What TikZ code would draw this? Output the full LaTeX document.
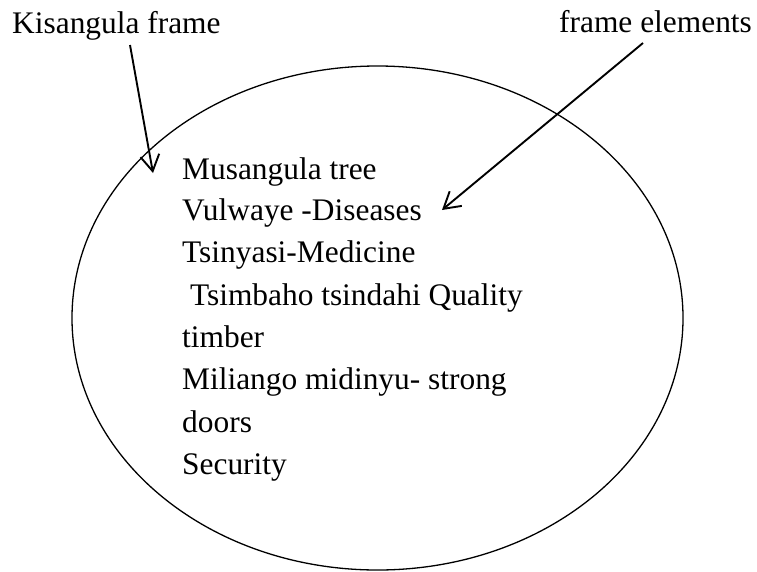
\documentclass[tikz,border=0pt]{standalone}
\usepackage{fontspec}
\setmainfont{Liberation Serif}
\usetikzlibrary{arrows.meta}
\begin{document}
\begin{tikzpicture}[x=1pt,y=-1pt,
  txt/.style={anchor=base west,inner sep=0pt,font=\fontsize{31.4}{42.3}\selectfont},
  pointer/.style={line width=1.9pt,-{Straight Barb[length=16pt,width=19pt,line join=miter]}},
  frameshape/.style={draw,line width=1.3pt}]
\useasboundingbox (0,0) rectangle (757,571);
\draw[frameshape] (377.5,318) ellipse [x radius=305.5,y radius=252];
\node[txt] (kis) at (12,33) {Kisangula frame};
\node[txt] (fel) at (559,32) {frame elements};
\node[txt] (l1) at (182,179) {Musangula tree};
\node[txt] (l2) at (182,220.7) {Vulwaye -Diseases};
\node[txt] (l3) at (182,262.8) {Tsinyasi-Medicine};
\node[txt] (l4) at (182,305.1) {\ Tsimbaho tsindahi Quality};
\node[txt] (l5) at (182,347.4) {timber};
\node[txt] (l6) at (182,389.8) {Miliango midinyu- strong};
\node[txt] (l7) at (182,432.1) {doors};
\node[txt] (l8) at (182,474.5) {Security};
\coordinate (a1s) at (130,45);
\coordinate (a1e) at (153,173);
\coordinate (a2s) at (643,43);
\coordinate (a2e) at (442,210);
\draw[pointer] (a1s) -- (a1e);
\draw[pointer] (a2s) -- (a2e);
\end{tikzpicture}
\end{document}
